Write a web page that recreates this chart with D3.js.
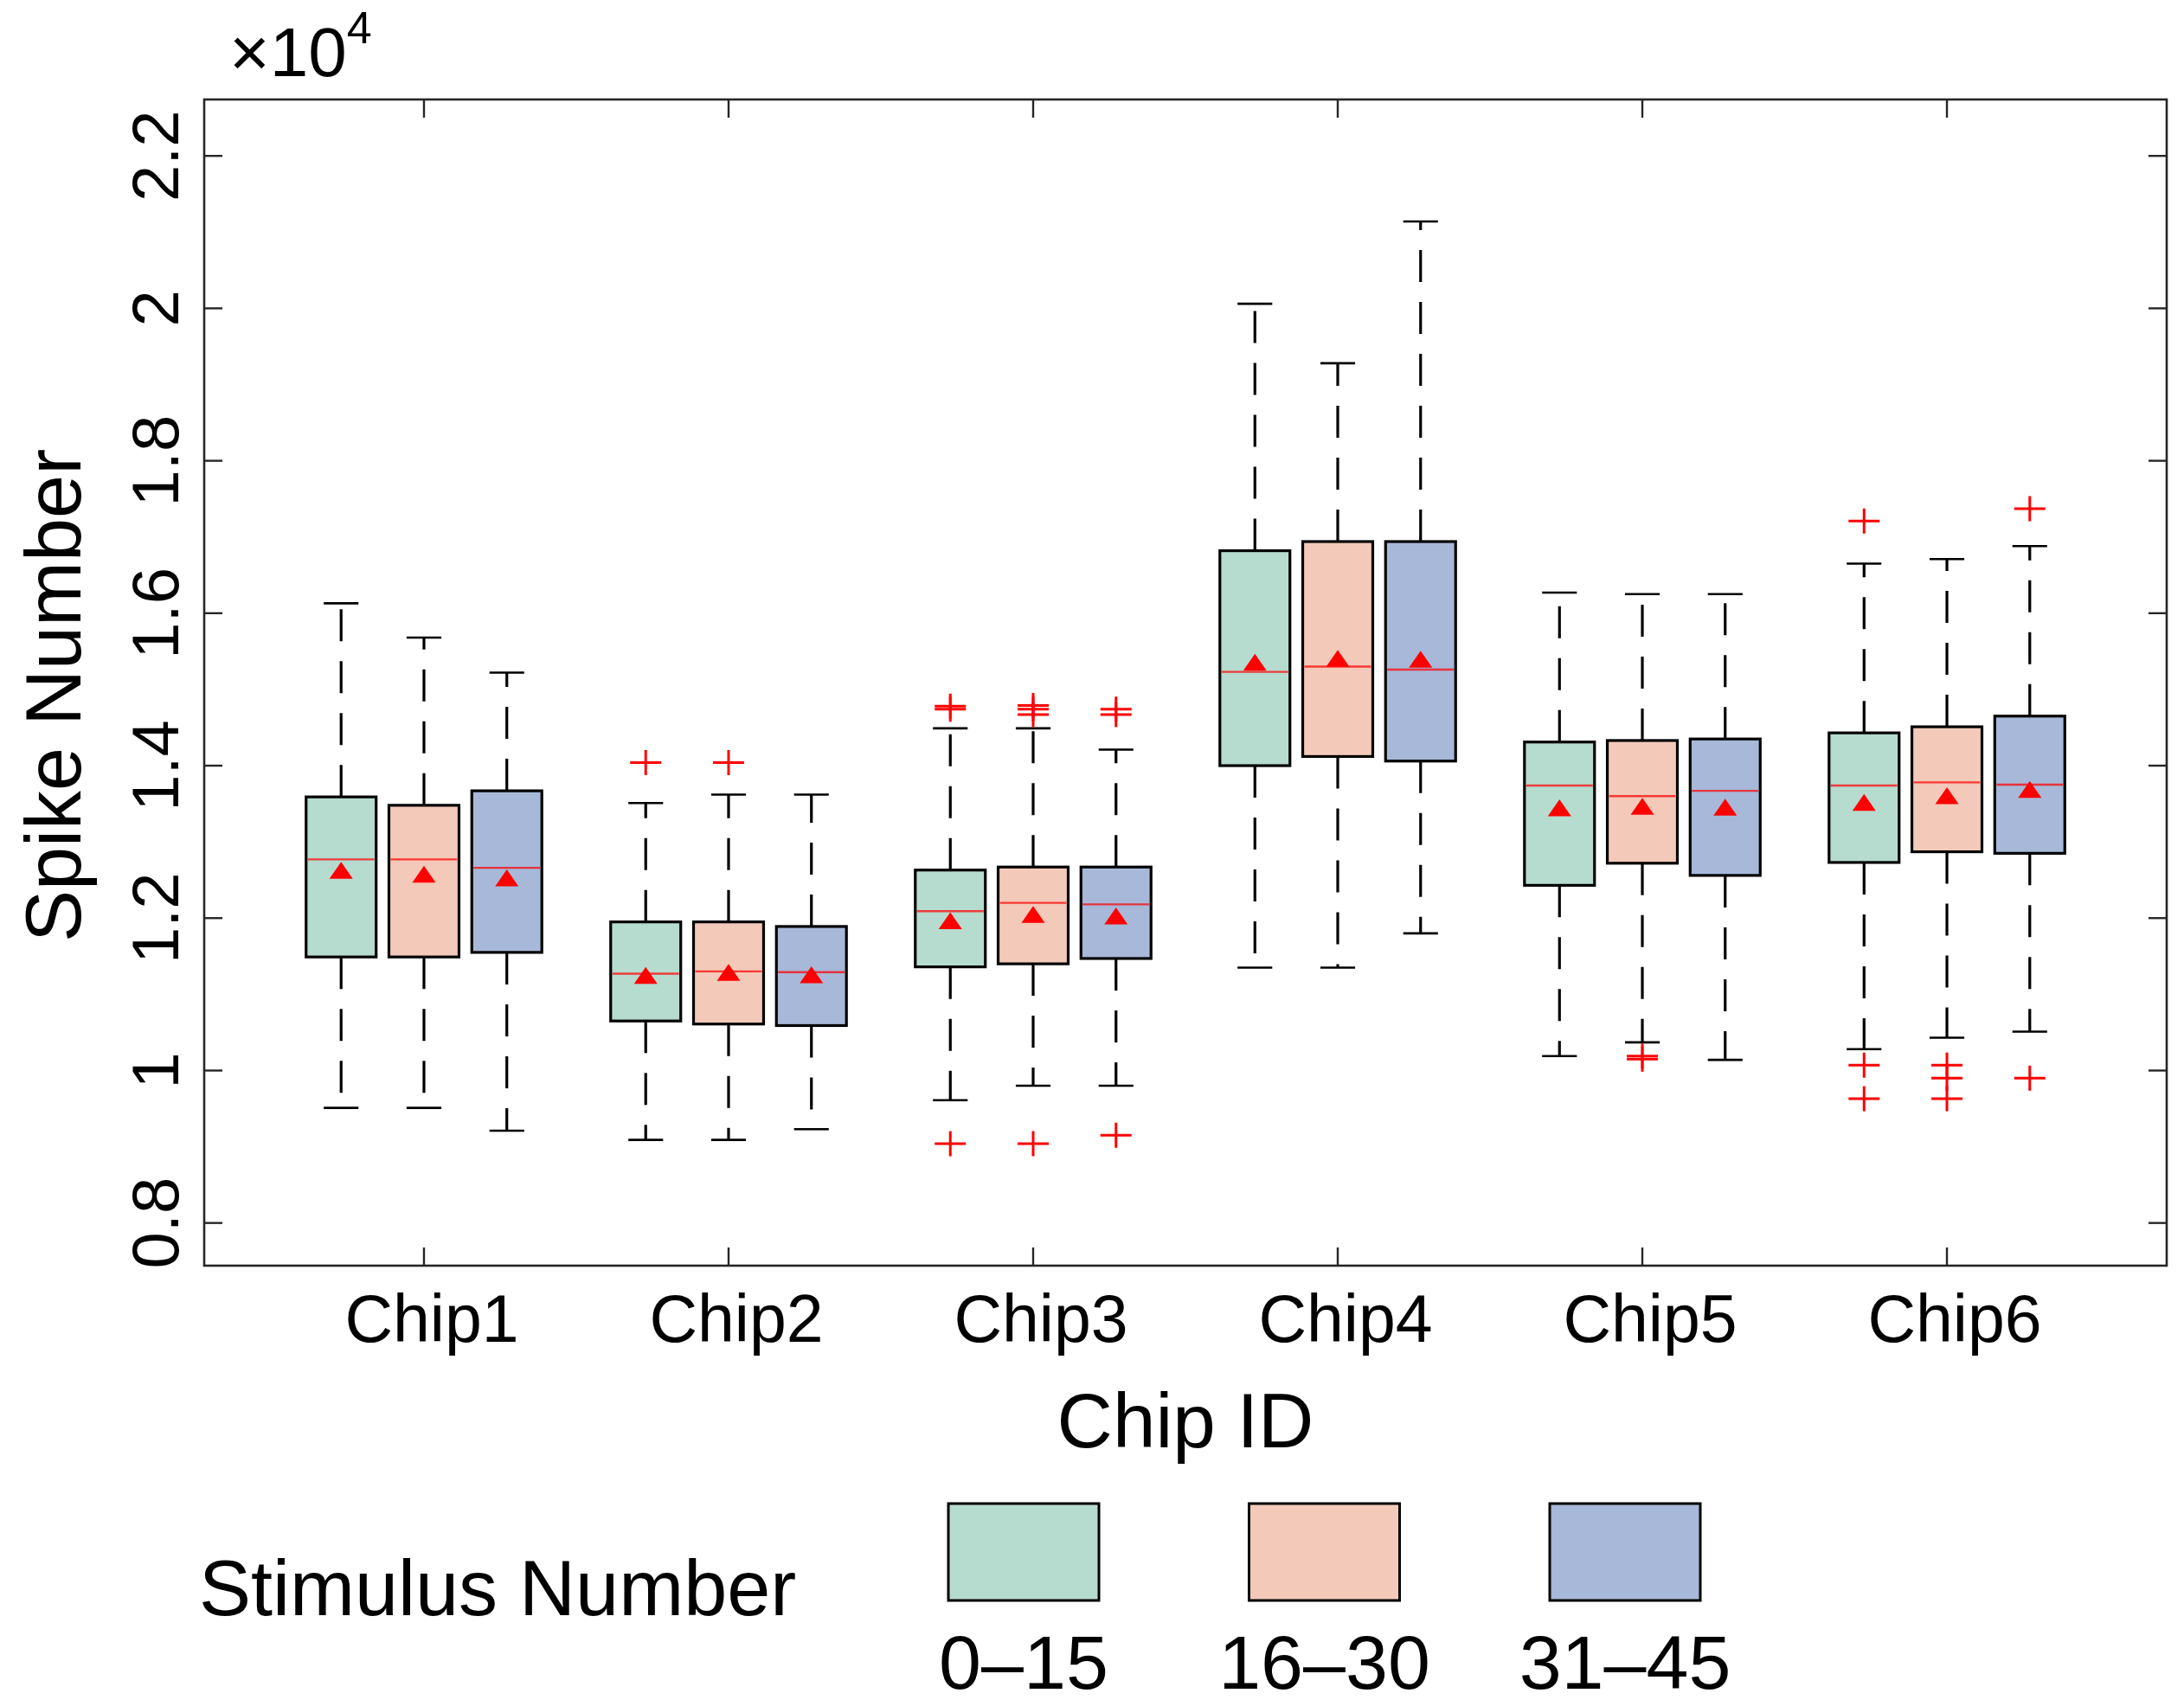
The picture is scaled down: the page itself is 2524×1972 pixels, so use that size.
<!DOCTYPE html>
<html>
<head>
<meta charset="utf-8">
<script src="https://cdn.jsdelivr.net/npm/d3@7"></script>
<style>
  html, body { margin: 0; padding: 0; background: #ffffff; }
  svg { display: block; font-family: "Liberation Sans", Arial, Helvetica, sans-serif; }
</style>
</head>
<body>
<svg id="chart" width="2524" height="1972"></svg>
<script>
// ---------------- DATA (spike counts) ----------------
const chips = ["Chip1", "Chip2", "Chip3", "Chip4", "Chip5", "Chip6"];
const groups = ["0\u201315", "16\u201330", "31\u201345"];
const groupColors = ["#b6dbcf", "#f3c9b9", "#a7b8d8"];
const yTicks = [8000, 10000, 12000, 14000, 16000, 18000, 20000, 22000];

// each row: one chip; each column: one stimulus group [0-15, 16-30, 31-45]
const lowerWhisker = [
  [9510, 9510, 9210],
  [9090, 9090, 9230],
  [9610, 9800, 9800],
  [11350, 11350, 11800],
  [10190, 10370, 10140],
  [10280, 10430, 10510]
];
const q1 = [
  [11490, 11490, 11550],
  [10650, 10610, 10590],
  [11360, 11400, 11470],
  [14000, 14120, 14060],
  [12430, 12720, 12560],
  [12730, 12870, 12850]
];
const median = [
  [12770, 12770, 12660],
  [11270, 11300, 11290],
  [12090, 12200, 12180],
  [15230, 15300, 15260],
  [13740, 13600, 13670],
  [13740, 13780, 13750]
];
const q3 = [
  [13590, 13480, 13670],
  [11950, 11950, 11890],
  [12630, 12670, 12670],
  [16820, 16940, 16940],
  [14310, 14330, 14350],
  [14430, 14510, 14650]
];
const upperWhisker = [
  [16130, 15680, 15220],
  [13510, 13620, 13620],
  [14490, 14490, 14210],
  [20060, 19280, 21140],
  [16270, 16250, 16250],
  [16650, 16710, 16880]
];
const means = [
  [12590, 12540, 12490],
  [11210, 11250, 11220],
  [11930, 12010, 11990],
  [15320, 15370, 15360],
  [13410, 13430, 13420],
  [13480, 13570, 13650]
];
const outliers = [
  [[], [], []],
  [[14040], [14040], []],
  [[14780, 14740, 9040], [14790, 14740, 14670, 9040], [14740, 14670, 9150]],
  [[], [], []],
  [[], [10190, 10150], []],
  [[17210, 10070, 9630], [10070, 9900, 9630], [17370, 9900]]
];

// ---------------- LAYOUT ----------------
const svg = d3.select("#chart");
const plot = { left: 236, right: 2504, top: 115, bottom: 1463 };

const x = d3.scaleLinear().domain([0.2785, 6.7215]).range([plot.left, plot.right]);
const y = d3.scaleLinear().domain([7440, 22740]).range([plot.bottom, plot.top]);

const groupOffset = [-0.272, 0, 0.272];
const boxHalf = 0.115;     // in chip units
const capHalf = 0.057;
const tickLen = 21;
const axisColor = "#262626";

svg.append("rect").attr("width", 2524).attr("height", 1972).attr("fill", "#ffffff");

// ---------------- BOXES ----------------
const items = [];
chips.forEach((c, i) => {
  groups.forEach((g, j) => {
    items.push({
      chip: i, group: j, cx: i + 1 + groupOffset[j],
      lw: lowerWhisker[i][j], q1: q1[i][j], med: median[i][j],
      q3: q3[i][j], uw: upperWhisker[i][j], mean: means[i][j],
      out: outliers[i][j]
    });
  });
});

const gBox = svg.append("g");

items.forEach(d => {
  const g = gBox.append("g");
  const xc = x(d.cx);
  const xl = x(d.cx - boxHalf), xr = x(d.cx + boxHalf);
  const cl = x(d.cx - capHalf), cr = x(d.cx + capHalf);

  // whiskers (dashed), drawn from box edge outward
  g.append("line").attr("x1", xc).attr("x2", xc)
    .attr("y1", y(d.q3)).attr("y2", y(d.uw))
    .attr("stroke", "#000").attr("stroke-width", 3.2).attr("stroke-dasharray", "37,23");
  g.append("line").attr("x1", xc).attr("x2", xc)
    .attr("y1", y(d.q1)).attr("y2", y(d.lw))
    .attr("stroke", "#000").attr("stroke-width", 3.2).attr("stroke-dasharray", "37,23");
  // caps
  [d.uw, d.lw].forEach(v => {
    g.append("line").attr("x1", cl).attr("x2", cr)
      .attr("y1", y(v)).attr("y2", y(v))
      .attr("stroke", "#000").attr("stroke-width", 2.6);
  });
  // box
  g.append("rect")
    .attr("x", xl).attr("y", y(d.q3))
    .attr("width", xr - xl).attr("height", y(d.q1) - y(d.q3))
    .attr("fill", groupColors[d.group])
    .attr("stroke", "#000").attr("stroke-width", 3.2);
  // median
  g.append("line").attr("x1", xl + 2).attr("x2", xr - 2)
    .attr("y1", y(d.med)).attr("y2", y(d.med))
    .attr("stroke", "#ff0000").attr("stroke-opacity", 0.72).attr("stroke-width", 2.4);
  // mean triangle (centroid at mean)
  const my = y(d.mean), tw = 13.5, th = 19.5;
  g.append("path")
    .attr("d", d3.line()([[xc, my - th * 2 / 3], [xc - tw, my + th / 3], [xc + tw, my + th / 3]]) + "Z")
    .attr("fill", "#ff0000");
  // outliers
  d.out.forEach(v => {
    const oy = y(v);
    g.append("path")
      .attr("d", `M${xc - 18},${oy}H${xc + 18}M${xc},${oy - 14.5}V${oy + 14.5}`)
      .attr("stroke", "#ff0000").attr("stroke-width", 3).attr("fill", "none");
  });
});

// ---------------- AXES ----------------
const frame = svg.append("g");
frame.append("rect")
  .attr("x", plot.left).attr("y", plot.top)
  .attr("width", plot.right - plot.left).attr("height", plot.bottom - plot.top)
  .attr("fill", "none").attr("stroke", axisColor).attr("stroke-width", 2.6);

// y ticks (inward, left & right)
yTicks.forEach(t => {
  const ty = y(t);
  frame.append("line").attr("x1", plot.left).attr("x2", plot.left + tickLen)
    .attr("y1", ty).attr("y2", ty).attr("stroke", axisColor).attr("stroke-width", 2.4);
  frame.append("line").attr("x1", plot.right).attr("x2", plot.right - tickLen)
    .attr("y1", ty).attr("y2", ty).attr("stroke", axisColor).attr("stroke-width", 2.4);
  frame.append("text")
    .attr("transform", `translate(206,${ty}) rotate(-90)`)
    .attr("text-anchor", "middle")
    .attr("font-size", 76)
    .attr("fill", "#000")
    .text(d3.format("~g")(t / 1e4));
});

// x ticks (inward, bottom & top)
chips.forEach((c, i) => {
  const tx = x(i + 1);
  frame.append("line").attr("x1", tx).attr("x2", tx)
    .attr("y1", plot.bottom).attr("y2", plot.bottom - tickLen)
    .attr("stroke", axisColor).attr("stroke-width", 2.4);
  frame.append("line").attr("x1", tx).attr("x2", tx)
    .attr("y1", plot.top).attr("y2", plot.top + tickLen)
    .attr("stroke", axisColor).attr("stroke-width", 2.4);
  frame.append("text")
    .attr("x", tx + 9).attr("y", 1551)
    .attr("text-anchor", "middle")
    .attr("font-size", 77)
    .attr("fill", "#000")
    .text(c);
});

// multiplier
const mult = svg.append("text").attr("x", 265).attr("y", 88).attr("font-size", 80).attr("fill", "#000");
mult.append("tspan").text("\u00d710");
mult.append("tspan").attr("font-size", 52).attr("dy", -38).text("4");

// axis titles
svg.append("text")
  .attr("x", (plot.left + plot.right) / 2).attr("y", 1673)
  .attr("text-anchor", "middle").attr("font-size", 89).attr("fill", "#000")
  .text("Chip ID");
svg.append("text")
  .attr("transform", "translate(93,804) rotate(-90)")
  .attr("text-anchor", "middle").attr("font-size", 90).attr("fill", "#000")
  .text("Spike Number");

// ---------------- LEGEND ----------------
const legend = svg.append("g");
legend.append("text")
  .attr("x", 230).attr("y", 1867)
  .attr("font-size", 90).attr("fill", "#000")
  .text("Stimulus Number");

const lx = d3.scalePoint().domain(groups).range([1183, 1878]);
groups.forEach((g, j) => {
  const cx = lx(g);
  legend.append("rect")
    .attr("x", cx - 87).attr("y", 1738)
    .attr("width", 174).attr("height", 112)
    .attr("fill", groupColors[j])
    .attr("stroke", "#000").attr("stroke-width", 3);
  legend.append("text")
    .attr("x", cx).attr("y", 1952)
    .attr("text-anchor", "middle")
    .attr("font-size", 88).attr("fill", "#000")
    .text(g);
});
</script>
</body>
</html>
